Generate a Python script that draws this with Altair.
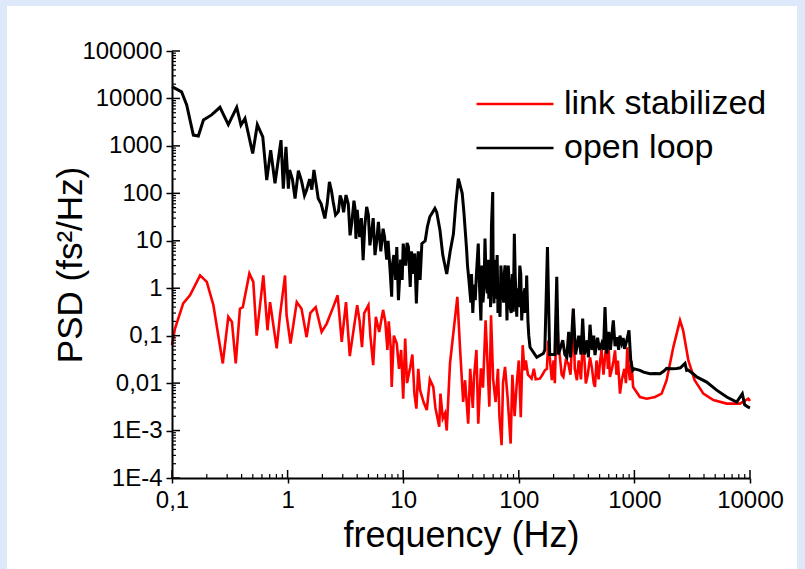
import altair as alt
import pandas as pd

# ---------------- data (frequency Hz, PSD fs^2/Hz) ----------------
series_names = ["link stabilized", "open loop"]
series_colors = ["#ff0000", "#000000"]

open_loop_points = [
    (0.1, 17700), (0.121, 13800), (0.134, 7300), (0.153, 1690), (0.169, 1620), (0.187, 3500),
    (0.22, 4500), (0.26, 6500), (0.307, 2800), (0.363, 6500), (0.395, 2750), (0.428, 3800),
    (0.499, 690), (0.547, 2800), (0.61, 1550), (0.66, 190), (0.714, 810), (0.778, 163),
    (0.877, 1320), (0.918, 126), (0.968, 955), (1.015, 126), (1.04, 310), (1.1, 200),
    (1.16, 78), (1.24, 300), (1.32, 182), (1.4, 90), (1.46, 117), (1.55, 200), (1.62, 120),
    (1.69, 310), (1.77, 150), (1.84, 78), (1.95, 60), (2.1, 29.5), (2.2, 60), (2.3, 175),
    (2.4, 110), (2.48, 66), (2.6, 35), (2.75, 41), (2.85, 90), (2.94, 72), (3.05, 40),
    (3.2, 92), (3.35, 60), (3.47, 13), (3.6, 25), (3.75, 70), (3.83, 48), (3.9, 11), (4.0, 45),
    (4.2, 12), (4.35, 30), (4.5, 3.9), (4.65, 20), (4.83, 52), (5.0, 35), (5.15, 8),
    (5.34, 15.5), (5.5, 30), (5.7, 5), (5.9, 10), (6.1, 25), (6.4, 6), (6.7, 18), (6.9, 12),
    (7.2, 4), (7.4, 10), (7.7, 2.4), (7.95, 0.66), (8.05, 3), (8.3, 5), (8.6, 1.5), (8.8, 7.4),
    (9.1, 0.56), (9.5, 4), (9.8, 1.5), (10, 8.7), (10.5, 3), (10.8, 9), (11.1, 7.4),
    (11.5, 1.07), (11.8, 6), (12.2, 2), (12.6, 5.4), (13.0, 0.48), (13.5, 6), (14, 1.5),
    (14.5, 8.7), (15.5, 10), (16.2, 20), (17, 32), (18.8, 48), (19.5, 40), (20.8, 16.7),
    (22, 5), (23.8, 2.0), (25.5, 6), (27.2, 14), (28.5, 60), (30, 205), (32.4, 100),
    (33.5, 40), (34.5, 15), (35.4, 6.3), (36, 3), (37, 1.5), (38.5, 0.5), (39, 2), (40, 0.3),
    (41, 1.2), (42, 0.56), (43, 2), (44.6, 8.7), (45.5, 1.5), (47, 0.21), (48, 3), (49, 0.5),
    (50, 1), (51, 11.2), (52, 2), (53.5, 0.78), (54.5, 4), (55, 0.6), (56, 3), (57, 0.4),
    (58, 20), (59.5, 107), (60, 2), (61, 0.48), (62, 4), (63, 0.6), (64, 1.5), (65, 5),
    (66, 0.3), (67, 0.6), (68.8, 0.25), (70, 3), (72, 1), (74, 0.5), (75, 2), (76, 3.05),
    (78, 0.8), (79, 0.21), (81, 3), (83, 1.2), (84, 0.4), (86, 0.3), (88, 2), (89.6, 0.32),
    (91.5, 14), (93, 2), (94, 1), (96, 0.25), (97, 1), (99, 0.5), (100, 0.4), (102, 3),
    (104, 2), (106, 0.21), (108, 0.6), (110, 0.3), (111, 0.8), (113, 1), (115, 0.3),
    (117, 1.86), (120, 0.2), (122, 0.1), (125, 0.057), (143, 0.035), (163, 0.042),
    (168, 0.05), (177, 7.4), (185, 0.04), (205, 0.04), (213, 1.74), (220, 0.04), (240, 0.08),
    (250, 0.04), (260, 0.035), (270, 0.12), (280, 0.035), (296, 0.37), (310, 0.04),
    (330, 0.1), (345, 0.04), (357, 0.23), (370, 0.04), (390, 0.08), (400, 0.035),
    (413, 0.17), (430, 0.05), (445, 0.1), (456, 0.039), (480, 0.09), (500, 0.05),
    (521, 0.068), (540, 0.05), (557, 0.4), (577, 0.042), (600, 0.12), (620, 0.05),
    (657, 0.21), (680, 0.06), (711, 0.093), (730, 0.05), (750, 0.1), (776, 0.07), (800, 0.09),
    (820, 0.053), (860, 0.08), (898, 0.13), (930, 0.03), (967, 0.0186), (1000, 0.02),
    (1117, 0.0186), (1200, 0.017), (1365, 0.0158), (1500, 0.016), (1665, 0.0158),
    (1800, 0.018), (1900, 0.0204), (2100, 0.02), (2320, 0.0204), (2500, 0.021),
    (2740, 0.026), (2830, 0.0186), (2900, 0.019), (3200, 0.016), (3460, 0.0135),
    (4220, 0.0105), (5150, 0.0071), (6290, 0.0051), (7670, 0.0040), (8580, 0.006),
    (9000, 0.0035), (9670, 0.0031), (10000, 0.003),
]

stabilized_points = [
    (0.1, 0.063), (0.106, 0.14), (0.125, 0.48), (0.143, 0.71), (0.175, 1.86), (0.2, 1.36),
    (0.228, 0.44), (0.275, 0.026), (0.307, 0.25), (0.33, 0.195), (0.356, 0.026), (0.387, 0.37),
    (0.41, 0.4), (0.467, 2.05), (0.505, 1.36), (0.54, 0.10), (0.617, 1.86), (0.67, 0.13),
    (0.705, 0.51), (0.805, 0.054), (0.86, 0.27), (0.95, 1.86), (0.98, 0.27), (1.06, 0.068),
    (1.2, 0.51), (1.32, 0.37), (1.46, 0.093), (1.57, 0.30), (1.75, 0.4), (1.97, 0.12),
    (2.18, 0.18), (2.48, 0.4), (2.71, 0.71), (2.94, 0.074), (3.2, 0.51), (3.45, 0.037),
    (4.0, 0.44), (4.2, 0.2), (4.4, 0.057), (4.6, 0.3), (5.0, 0.44), (5.2, 0.1), (5.5, 0.024),
    (5.8, 0.25), (6.2, 0.12), (6.7, 0.35), (7.0, 0.2), (7.3, 0.05), (7.5, 0.2), (7.8, 0.057),
    (7.95, 0.0083), (8.3, 0.1), (8.8, 0.068), (9.2, 0.02), (9.6, 0.05), (10, 0.0047),
    (10.4, 0.087), (10.8, 0.01), (11.5, 0.0215), (12, 0.04), (12.5, 0.006), (13, 0.0029),
    (13.5, 0.02), (14, 0.0071), (15, 0.004), (16, 0.0027), (17, 0.012), (18.2, 0.0083),
    (19, 0.003), (20.5, 0.0012), (21, 0.006), (22, 0.0018), (23, 0.0023), (23.8, 0.001),
    (25.4, 0.026), (29.4, 0.66), (31, 0.057), (33, 0.004), (34.3, 0.0115), (36.5, 0.0014),
    (38, 0.02), (40, 0.003), (41, 0.0135), (43, 0.05), (44.6, 0.0014), (47, 0.0204),
    (49, 0.008), (51.6, 0.21), (53, 0.05), (55.6, 0.0032), (57.5, 0.27), (60, 0.012),
    (63, 0.004), (66, 0.02), (68, 0.002), (71, 0.00049), (73, 0.01), (76, 0.022), (80, 0.005),
    (85, 0.00053), (88, 0.015), (92, 0.002), (96, 0.0098), (100, 0.03), (104, 0.0019),
    (108, 0.063), (112, 0.0186), (115, 0.03), (120, 0.015), (129, 0.0124), (135, 0.02),
    (140, 0.012), (152, 0.0124), (160, 0.015), (168, 0.0186), (175, 0.02), (180, 0.079),
    (193, 0.0115), (200, 0.03), (205, 0.01), (213, 0.37), (220, 0.06), (227, 0.035),
    (235, 0.015), (243, 0.0135), (255, 0.03), (268, 0.026), (280, 0.015), (290, 0.08),
    (296, 0.37), (305, 0.02), (318, 0.0115), (330, 0.03), (345, 0.012), (357, 0.074),
    (370, 0.03), (380, 0.0098), (395, 0.015), (413, 0.035), (430, 0.02), (445, 0.01),
    (456, 0.0083), (470, 0.03), (490, 0.012), (504, 0.028), (520, 0.05), (540, 0.015),
    (560, 0.04), (575, 0.093), (590, 0.02), (600, 0.05), (614, 0.0135), (640, 0.02),
    (660, 0.03), (680, 0.049), (700, 0.015), (720, 0.03), (750, 0.006), (780, 0.012),
    (820, 0.02), (845, 0.01), (868, 0.057), (890, 0.02), (916, 0.0115), (940, 0.03),
    (975, 0.0083), (1117, 0.0051), (1280, 0.0047), (1510, 0.0051), (1720, 0.006),
    (1900, 0.0115), (2170, 0.057), (2480, 0.21), (2640, 0.13), (2930, 0.030), (3320, 0.0115),
    (3950, 0.006), (4820, 0.0044), (6290, 0.0037), (8190, 0.0037), (9670, 0.0047),
    (10000, 0.0042),
]

x_tick_values = [0.1, 1, 10, 100, 1000, 10000]
x_tick_labels = ["0,1", "1", "10", "100", "1000", "10000"]
y_tick_values = [1e-4, 1e-3, 0.01, 0.1, 1, 10, 100, 1000, 10000, 100000]
y_tick_labels = ["1E-4", "1E-3", "0,01", "0,1", "1", "10", "100", "1000", "10000", "100000"]

x_title = "frequency (Hz)"
y_title = "PSD (fs\u00b2/Hz)"

# ---------------- layout / style ----------------
FONT = "Liberation Sans"
W, H = 578, 427
PAD = {"left": 172, "top": 51, "right": 55, "bottom": 91}
FRAME = "#dde9fb"


def label_expr(values, labels):
    parts = [f"datum.value < {v * 1.5:.10g} ? '{l}'" for v, l in zip(values, labels)]
    return " : ".join(parts) + " : ''"


x_minor = [m * 10.0 ** k for k in range(-1, 4) for m in range(2, 10)]
y_minor = [m * 10.0 ** k for k in range(-4, 5) for m in range(2, 10)]

df_red = pd.DataFrame({"freq": [p[0] for p in stabilized_points],
                       "psd": [p[1] for p in stabilized_points],
                       "series": series_names[0]})
df_black = pd.DataFrame({"freq": [p[0] for p in open_loop_points],
                         "psd": [p[1] for p in open_loop_points],
                         "series": series_names[1]})

x_scale = alt.Scale(type="log", domain=[0.1, 10000], nice=False)
y_scale = alt.Scale(type="log", domain=[1e-4, 1e5], nice=False)
color_scale = alt.Scale(domain=series_names, range=series_colors)

x_axis = alt.Axis(values=x_tick_values, labelExpr=label_expr(x_tick_values, x_tick_labels),
                  orient="bottom", tickSize=5, tickWidth=1.5, domainWidth=2,
                  labelFontSize=24, labelPadding=5, titleFontSize=36, titleFontWeight="normal",
                  titlePadding=6, labelFlush=False, labelOverlap=False, grid=False, zindex=2)
y_axis = alt.Axis(values=y_tick_values, labelExpr=label_expr(y_tick_values, y_tick_labels),
                  orient="left", tickSize=6, tickWidth=1.5, domainWidth=2,
                  labelFontSize=24, labelPadding=4, titleFontSize=35, titleFontWeight="normal",
                  titlePadding=-7, labelOverlap=False, grid=False, zindex=2)

legend = alt.Legend(title=None, orient="none", legendX=326, legendY=36, symbolType="M-2.5,0H2.5",
                    symbolSize=949, symbolStrokeWidth=2.6, labelFontSize=34, labelFont=FONT,
                    labelColor="#000000", labelOffset=32, labelLimit=0, rowPadding=10, padding=0,
                    zindex=3)


def xenc(field):
    return alt.X(field, scale=x_scale, axis=x_axis, title=x_title)


def yenc(field):
    return alt.Y(field, scale=y_scale, axis=y_axis, title=y_title)


# light-blue frame strips (top, left, right) around the white page
one = pd.DataFrame({"a": [0]})
frame_top = alt.Chart(one).mark_rect(color=FRAME, clip=False).encode(
    x=alt.value(-PAD["left"] - 5), x2=alt.value(W + PAD["right"] + 5),
    y=alt.value(-PAD["top"] - 5), y2=alt.value(6 - PAD["top"]))
frame_left = alt.Chart(one).mark_rect(color=FRAME, clip=False).encode(
    x=alt.value(-PAD["left"] - 5), x2=alt.value(7 - PAD["left"]),
    y=alt.value(-PAD["top"] - 5), y2=alt.value(H + PAD["bottom"] + 5))
frame_right = alt.Chart(one).mark_rect(color=FRAME, clip=False).encode(
    x=alt.value(797 - PAD["left"]), x2=alt.value(W + PAD["right"] + 5),
    y=alt.value(-PAD["top"] - 5), y2=alt.value(H + PAD["bottom"] + 5))

red = alt.Chart(df_red).mark_line(strokeWidth=2.6).encode(
    x=xenc("freq:Q"), y=yenc("psd:Q"),
    color=alt.Color("series:N", scale=color_scale, legend=legend),
    order=alt.Order("freq:Q"))

black = alt.Chart(df_black).mark_line(strokeWidth=3.0).encode(
    x=xenc("freq:Q"), y=yenc("psd:Q"),
    color=alt.Color("series:N", scale=color_scale, legend=legend),
    order=alt.Order("freq:Q"))

# inward tick marks (minor and major) along both axes, positioned through the scales
df_xminor = pd.DataFrame({"freq": x_minor})
df_yminor = pd.DataFrame({"psd": y_minor})
df_xmajor = pd.DataFrame({"freq": x_tick_values})
df_ymajor = pd.DataFrame({"psd": y_tick_values})

x_minor_ticks = alt.Chart(df_xminor).mark_rule(color="#000000", strokeWidth=1.2).encode(
    x=xenc("freq:Q"), y=alt.value(H), y2=alt.value(H - 4))
x_major_ticks = alt.Chart(df_xmajor).mark_rule(color="#000000", strokeWidth=1.5).encode(
    x=xenc("freq:Q"), y=alt.value(H), y2=alt.value(H - 8))
y_minor_ticks = alt.Chart(df_yminor).mark_rule(color="#000000", strokeWidth=1.2).encode(
    y=yenc("psd:Q"), x=alt.value(0), x2=alt.value(4))
y_major_ticks = alt.Chart(df_ymajor).mark_rule(color="#000000", strokeWidth=1.5).encode(
    y=yenc("psd:Q"), x=alt.value(0), x2=alt.value(8))

chart = alt.layer(
    frame_top, frame_left, frame_right, red, black,
    x_minor_ticks, x_major_ticks, y_minor_ticks, y_major_ticks
).properties(
    width=W, height=H,
    autosize=alt.AutoSizeParams(type="none"),
    padding=PAD,
    background="#ffffff",
).configure_view(stroke=None).configure_axis(
    labelFont=FONT, titleFont=FONT, labelColor="#000000", titleColor="#000000",
    domainColor="#000000", tickColor="#000000",
)

chart.save("out.html", embed_options={"renderer": "svg", "actions": False})
